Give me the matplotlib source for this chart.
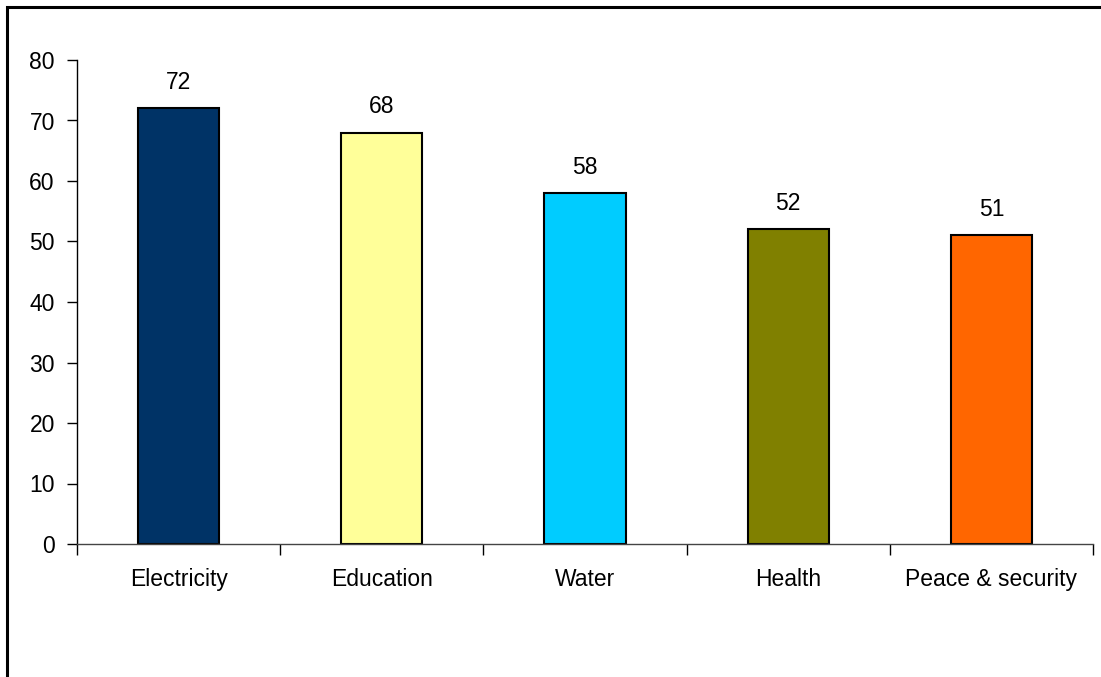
import numpy as np
import matplotlib
matplotlib.use('Agg')
import matplotlib.pyplot as plt
from matplotlib.patches import Rectangle

categories = ['Electricity', 'Education', 'Water', 'Health', 'Peace & security']
values = [72, 68, 58, 52, 51]
colors = ['#003366', '#FFFF99', '#00CCFF', '#808000', '#FF6600']

plt.rcParams['font.family'] = ['Liberation Sans', 'DejaVu Sans']
fs = 16.5

fig = plt.figure(figsize=(11.01, 6.77), dpi=100)
W, H = 1101, 677
ax = fig.add_axes([77 / W, 1 - 544 / H, (1093 - 77) / W, (544 - 60) / H])

x = np.arange(len(categories))
bars = ax.bar(x, values, width=0.4, color=colors, edgecolor='black', linewidth=1.5)
for xi, v in zip(x, values):
    ax.text(xi, v + 2.4, str(v), ha='center', va='bottom', fontsize=fs)

ax.set_xlim(-0.5, len(categories) - 0.5)
ax.set_ylim(0, 80)
ax.set_yticks(np.arange(0, 81, 10))
ax.set_xticks(x)
ax.set_xticklabels(categories, fontsize=fs)
ax.set_xticks(np.arange(-0.5, len(categories), 1), minor=True)
ax.tick_params(axis='x', which='major', length=0, pad=17)
ax.tick_params(axis='x', which='minor', length=8, width=1, direction='out')
ax.tick_params(axis='y', length=7, width=1, labelsize=fs, pad=9)

for s in ['top', 'right']:
    ax.spines[s].set_visible(False)
ax.spines['left'].set_linewidth(1)
ax.spines['bottom'].set_linewidth(1)
ax.spines['bottom'].set_color('#444444')

frame = Rectangle((7 / W, -0.1), 1.2, 1 - 7 / H + 0.1, transform=fig.transFigure,
                  fill=False, edgecolor='black', linewidth=2.2)
fig.patches.append(frame)

fig.savefig('out.png', dpi=100)
